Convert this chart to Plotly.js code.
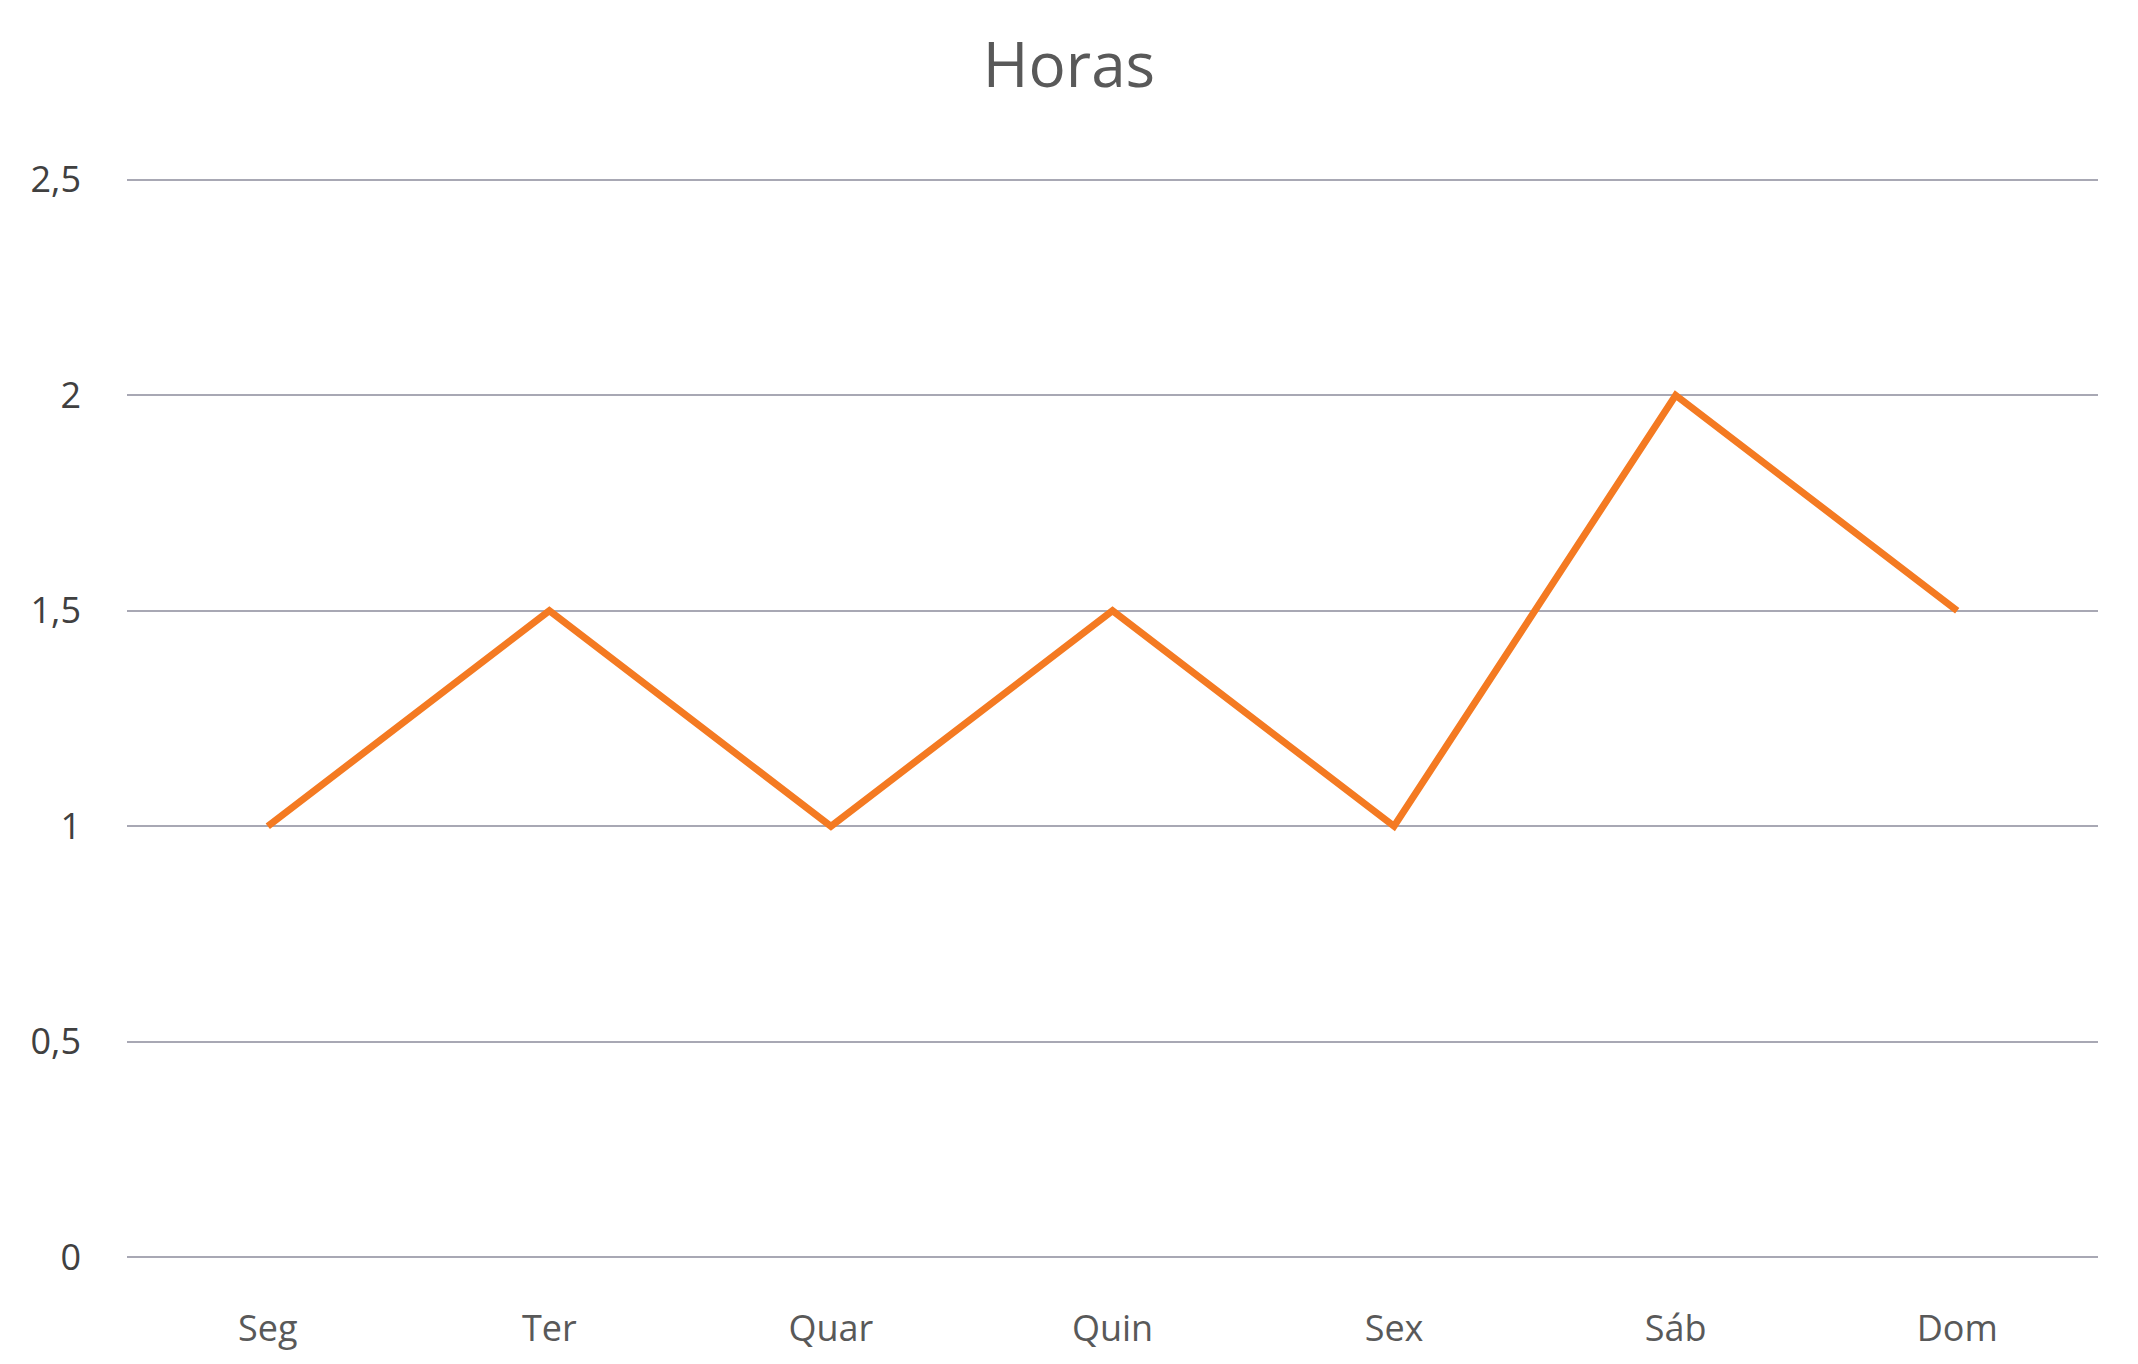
<!DOCTYPE html>
<html><head><meta charset="utf-8">
<script src="https://cdn.plot.ly/plotly-3.0.1.min.js"></script>
<style>body{margin:0}#c{width:2138px;height:1364px}</style></head>
<body><div id="c"></div>
<script>
const categories = ["Seg","Ter","Quar","Quin","Sex","Sáb","Dom"];
const horas = [1, 1.5, 1, 1.5, 1, 2, 1.5];
const yTickVals = [0, 0.5, 1, 1.5, 2, 2.5];
const yTickText = ["0","0,5","1","1,5","2","2,5"];
Plotly.newPlot("c", [{
  x: categories, y: horas, type: "scatter", mode: "lines",
  line: {color: "#F47A22", width: 7}
}], {
  width: 2138, height: 1364,
  margin: {l: 127, r: 40, t: 178, b: 105},
  paper_bgcolor: "#fff", plot_bgcolor: "#fff",
  font: {family: "Open Sans, Calibri, sans-serif", color: "#595959"},
  title: {text: "Horas", x: 0.5, xanchor: "center", y: 0.952, yanchor: "middle",
    font: {size: 62, color: "#595959"}},
  xaxis: {type: "category", range: [-0.5, 6.5], showgrid: false, zeroline: false,
    showline: false, ticks: "", ticklabelstandoff: 45, tickfont: {size: 36, color: "#595959"}},
  yaxis: {range: [-0.004, 2.504], tickvals: yTickVals, ticktext: yTickText,
    gridcolor: "#A8A8B4", gridwidth: 1.5, zeroline: false, showline: false,
    ticks: "", ticklabelstandoff: 45, tickfont: {size: 36, color: "#404040"}},
  showlegend: false
}, {displayModeBar: false});
</script></body></html>
